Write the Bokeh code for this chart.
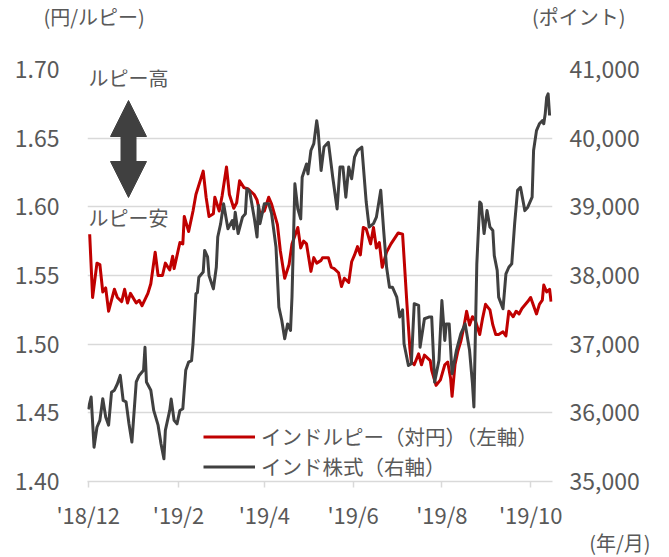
from bokeh.plotting import figure
from bokeh.models import (Range1d, LinearAxis, FixedTicker, NumeralTickFormatter,
                          Legend, LegendItem, Label, Arrow, NormalHead, ColumnDataSource, Title)
from bokeh.embed import file_html
from bokeh.resources import INLINE

# ---------------- data (x = days since 2018-12-01) ----------------
rupee_days = [1, 3, 6, 8, 10, 12, 14, 18, 20, 23, 25, 27, 29, 33, 35, 37, 41, 43, 46, 48,
              51, 53, 56, 58, 59, 63, 65, 66, 69, 72, 74, 79, 81, 83, 86, 87, 90, 92, 95, 97,
              100, 102, 104, 107, 110, 114, 116, 118, 121, 124, 126, 130, 132, 135, 138, 140, 144, 146, 148, 150,
              153, 155, 157, 160, 161, 165, 167, 169, 172, 174, 176, 179, 181, 183, 185, 187, 189, 191, 194, 196,
              198, 200, 202, 205, 208, 213, 216, 219, 221, 222, 224, 227, 229, 231, 235, 236, 239, 242, 245, 247,
              249, 250, 252, 254, 256, 258, 260, 262, 264, 266, 269, 271, 273, 276, 278, 280, 282, 285, 287, 289,
              292, 294, 296, 298, 302, 304, 308, 310, 312, 313, 315, 317, 318]
rupee_jpy = [1.580, 1.534, 1.559, 1.558, 1.538, 1.541, 1.524, 1.540, 1.534, 1.531, 1.540, 1.530, 1.537, 1.530, 1.532, 1.528, 1.537, 1.544, 1.567, 1.550,
             1.550, 1.559, 1.554, 1.564, 1.555, 1.574, 1.573, 1.593, 1.582, 1.597, 1.609, 1.626, 1.607, 1.593, 1.595, 1.607, 1.597, 1.608, 1.629, 1.609,
             1.599, 1.603, 1.619, 1.614, 1.613, 1.609, 1.605, 1.595, 1.597, 1.607, 1.602, 1.587, 1.568, 1.548, 1.558, 1.573, 1.585, 1.570, 1.575, 1.573,
             1.553, 1.563, 1.559, 1.561, 1.563, 1.563, 1.556, 1.555, 1.552, 1.542, 1.548, 1.545, 1.560, 1.565, 1.571, 1.565, 1.585, 1.584, 1.573, 1.585,
             1.570, 1.574, 1.556, 1.567, 1.573, 1.581, 1.580, 1.529, 1.497, 1.487, 1.485, 1.493, 1.485, 1.492, 1.488, 1.481, 1.470, 1.474, 1.485, 1.487,
             1.475, 1.462, 1.485, 1.495, 1.502, 1.512, 1.524, 1.514, 1.520, 1.517, 1.507, 1.519, 1.529, 1.525, 1.514, 1.507, 1.507, 1.509, 1.506, 1.524,
             1.520, 1.524, 1.522, 1.526, 1.531, 1.534, 1.522, 1.529, 1.532, 1.543, 1.538, 1.540, 1.531]

stock_days = [0, 2, 4, 6, 8, 10, 12, 14, 16, 18, 20, 22, 24, 26, 28, 30, 33, 35, 38, 39,
              40, 43, 45, 48, 50, 52, 53, 56, 57, 59, 61, 63, 65, 67, 69, 71, 72, 74, 75, 76,
              79, 80, 82, 83, 86, 88, 89, 91, 93, 96, 99, 100, 101, 103, 106, 108, 109, 111, 114, 116,
              117, 118, 121, 124, 126, 129, 131, 133, 135, 137, 139, 140, 142, 144, 146, 147, 150, 151, 153, 155,
              157, 158, 160, 162, 165, 166, 168, 171, 173, 175, 177, 179, 181, 183, 185, 188, 191, 193, 196, 198,
              201, 203, 205, 207, 209, 212, 214, 216, 217, 220, 222, 224, 227, 228, 231, 234, 236, 238, 241, 243,
              245, 246, 248, 250, 253, 256, 259, 262, 264, 265, 267, 269, 270, 272, 274, 276, 278, 279, 281, 282,
              285, 287, 289, 291, 293, 295, 297, 300, 302, 305, 306, 308, 310, 312, 313, 314, 315, 316, 317]
stock_pts = [36050, 36230, 35500, 35790, 35890, 36205, 35940, 35820, 36300, 36330, 36420, 36545, 36180, 36160, 35840, 35575, 36450, 36545, 36620, 36955,
             36450, 36330, 36035, 35820, 35550, 35330, 35745, 36035, 36200, 35890, 35840, 36035, 36060, 36620, 36740, 36760, 37005, 37735, 37750, 37975,
             38050, 38365, 38270, 38000, 37805, 38120, 38560, 38755, 39045, 38680, 38800, 38680, 38920, 38610, 38850, 38900, 39265, 39215, 38850, 38560,
             39020, 38755, 39045, 39045, 38900, 38415, 37540, 37345, 37080, 37295, 37200, 37685, 39335, 38970, 38825, 39430, 39625, 39480, 39820, 39920,
             40255, 40100, 39530, 39870, 39940, 39775, 39430, 38970, 39580, 39580, 39140, 39580, 39410, 39725, 39820, 39870, 39070, 38705, 38755, 38850,
             39240, 38655, 38120, 37830, 37830, 37685, 37395, 37500, 37005, 36690, 36715, 37590, 37565, 36955, 37370, 37395, 37395, 36445, 36765, 37635,
             37055, 37295, 37295, 36570, 36910, 37150, 37295, 36910, 36425, 36085, 38170, 39070, 39045, 38610, 38945, 38705, 38655, 38290, 38075, 37685,
             37515, 38025, 38120, 38170, 38755, 39240, 39285, 38945, 38995, 39140, 39820, 40110, 40210, 40255, 40210, 40355, 40595, 40645, 40330]

tick_days = [0, 62, 121, 182, 243, 304]
tick_labels = ["'18/12", "'19/2", "'19/4", "'19/6", "'19/8", "'19/10"]
left_ticks = [1.40, 1.45, 1.50, 1.55, 1.60, 1.65, 1.70]
right_ticks = [35000, 36000, 37000, 38000, 39000, 40000, 41000]
series_names = ["インドルピー（対円）（左軸）", "インド株式（右軸）"]

RED = "#C00000"
GRAY = "#404040"
TXT = "#595959"
GRID = "#D9D9D9"
FONT = "Noto Sans CJK JP"

p = figure(width=669, height=557, output_backend="svg", toolbar_location=None,
           x_range=Range1d(-0.5, 319), y_range=Range1d(1.40, 1.70),
           min_border_left=87, min_border_right=117, min_border_top=69, min_border_bottom=76)
p.outline_line_color = None
p.background_fill_color = "white"
p.extra_y_ranges = {"stock": Range1d(35000, 41000)}

# grids
p.xgrid.visible = False
p.ygrid.ticker = FixedTicker(ticks=left_ticks)
p.ygrid.grid_line_color = GRID
p.ygrid.grid_line_width = 1.5

# x axis
xa = p.xaxis[0]
xa.ticker = FixedTicker(ticks=tick_days)
xa.major_label_overrides = {d: l for d, l in zip(tick_days, tick_labels)}
xa.axis_line_color = GRID
xa.axis_line_width = 1.5
xa.major_tick_line_color = GRID
xa.major_tick_line_width = 1.5
xa.major_tick_in = 0
xa.major_tick_out = 6
xa.minor_tick_line_color = None
xa.major_label_standoff = 10
xa.major_label_text_font = FONT
xa.major_label_text_font_size = "22px"
xa.major_label_text_color = TXT

# left axis
ya = p.yaxis[0]
ya.ticker = FixedTicker(ticks=left_ticks)
ya.formatter = NumeralTickFormatter(format="0.00")
ya.axis_line_color = None
ya.major_tick_line_color = None
ya.minor_tick_line_color = None
ya.major_label_standoff = 22
ya.major_label_text_font = FONT
ya.major_label_text_font_size = "23px"
ya.major_label_text_color = TXT

# right axis
ra = LinearAxis(y_range_name="stock")
ra.ticker = FixedTicker(ticks=right_ticks)
ra.formatter = NumeralTickFormatter(format="0,0")
ra.axis_line_color = None
ra.major_tick_line_color = None
ra.minor_tick_line_color = None
ra.major_label_standoff = 11
ra.major_label_text_font = FONT
ra.major_label_text_font_size = "23px"
ra.major_label_text_color = TXT
p.add_layout(ra, "right")

# lines
src_r = ColumnDataSource(dict(x=rupee_days, y=rupee_jpy))
src_s = ColumnDataSource(dict(x=stock_days, y=stock_pts))
r_red = p.line("x", "y", source=src_r, line_color=RED, line_width=3, line_join="round")
r_gray = p.line("x", "y", source=src_s, line_color=GRAY, line_width=3, line_join="round",
                y_range_name="stock")

legend = Legend(items=[LegendItem(label=series_names[0], renderers=[r_red]),
                       LegendItem(label=series_names[1], renderers=[r_gray])],
                location=(116, 0), orientation="vertical",
                glyph_width=52, glyph_height=29, label_height=29, label_standoff=6,
                spacing=0, padding=0, margin=0,
                label_text_font=FONT, label_text_font_size="20.5px", label_text_color=TXT,
                background_fill_alpha=0, border_line_color=None)
p.add_layout(legend, "center")

# axis unit titles in side panels (not clipped to the plot frame)
def ttl(text, align, offset, side, standoff=0, valign="bottom"):
    p.add_layout(Title(text=text, align=align, offset=offset, standoff=standoff,
                       vertical_align=valign,
                       text_font=FONT, text_font_size="20px", text_color=TXT,
                       text_font_style="normal"), side)

ttl(" ", "left", 0, "above", standoff=25)                  # spacer row next to the frame
ttl("(円/ルピー)", "left", -44, "above", standoff=-34)
ttl("(ポイント)", "right", -73, "above", standoff=-34)
ttl("(年/月)", "right", -98, "below", standoff=-10, valign="top")

# in-plot annotations (screen units, relative to plot frame)
def lab(text, x, y):
    p.add_layout(Label(x=x, y=y, x_units="screen", y_units="screen", text=text,
                       text_font=FONT, text_font_size="20px", text_color=TXT,
                       text_align="left", text_baseline="middle"))

lab("ルピー高", 1, 404)
lab("ルピー安", 1, 264)

head_kw = dict(size=36, fill_color=GRAY, line_color=GRAY)
p.add_layout(Arrow(start=NormalHead(**head_kw), end=NormalHead(**head_kw),
                   x_start=41, y_start=284, x_end=41, y_end=381,
                   start_units="screen", end_units="screen",
                   line_color=GRAY, line_width=16))

open("out.html", "w").write(file_html(p, INLINE))
